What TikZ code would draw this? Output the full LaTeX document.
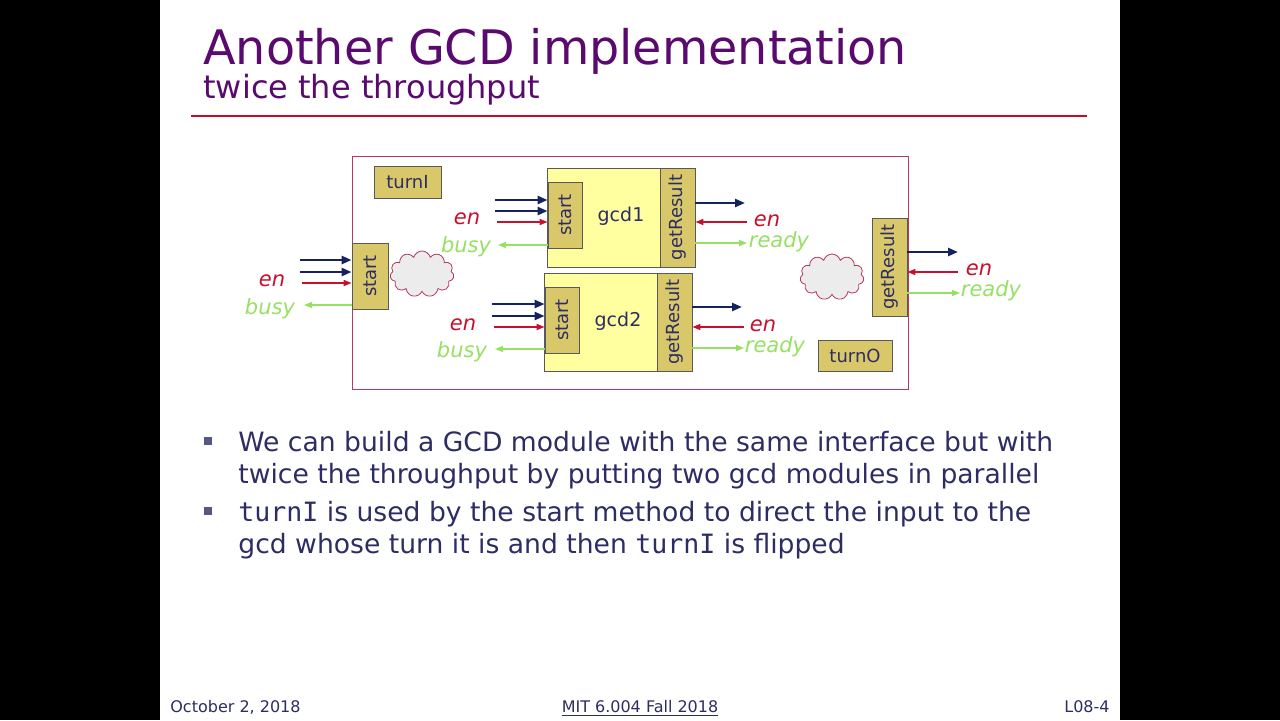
\documentclass[tikz,border=0pt]{standalone}
\usepackage{fontspec}
\setmainfont{DejaVu Sans}
\setmonofont{DejaVu Sans Mono}
\usetikzlibrary{positioning,arrows.meta,shapes.symbols,calc}
\definecolor{titlepurple}{RGB}{90,10,110}
\definecolor{rulered}{RGB}{200,10,40}
\definecolor{bodynavy}{RGB}{45,45,100}
\definecolor{busnavy}{RGB}{20,35,95}
\definecolor{enred}{RGB}{200,16,46}
\definecolor{okgreen}{RGB}{150,225,100}
\definecolor{khaki}{RGB}{217,200,106}
\definecolor{paleyellow}{RGB}{255,255,160}
\definecolor{framered}{RGB}{180,60,90}

\tikzset{
    method/.style={draw=gray!70!black, fill=khaki, inner sep=0pt, font=\fontsize{9}{10}\selectfont, text=bodynavy},
    module/.style={draw=gray!70!black, fill=paleyellow, inner sep=0pt},
    bus/.style={-{Triangle[length=5pt,width=4pt]}, very thick, busnavy},
    enw/.style={-{Triangle[length=4pt,width=3pt]}, thick, enred},
    rdy/.style={-{Triangle[length=4pt,width=3pt]}, semithick, okgreen},
    enlab/.style={enred, font=\fontsize{10.5}{11}\selectfont\itshape},
    rdylab/.style={okgreen, font=\fontsize{10.5}{11}\selectfont\itshape},
    fuzz/.style={cloud, cloud puffs=11, draw=framered, fill=gray!15, minimum width=32pt, minimum height=23pt, inner sep=0pt}
}

\begin{document}
\begin{tikzpicture}[x=0.5pt, y=-0.5pt]

    % slide frame
    \useasboundingbox (0,0) rectangle (1280,720);
    \fill[white] (0,0) rectangle (1280,720);
    \fill[black] (0,0) rectangle (160,720);
    \fill[black] (1120,0) rectangle (1280,720);

    % title
    \node[anchor=base west, inner sep=0pt, titlepurple, font=\fontsize{23.8}{26}\selectfont] (title) at (203,64) {Another GCD implementation};
    \node[anchor=base west, inner sep=0pt, titlepurple, font=\fontsize{16}{18}\selectfont] (subtitle) at (203,98) {twice the throughput};
    \draw[rulered, line width=1pt] (191,116) -- (1087,116);

    % outer module
    \draw[framered, fill=white] (352,156) rectangle (908,389);
    \node[method, minimum width=33.5pt, minimum height=16pt] (turnI) at (407.5,182) {turnI};
    \node[method, minimum width=37pt, minimum height=15.5pt] (turnO) at (855,355.5) {turnO};

    % gcd1
    \node[module, minimum width=74pt, minimum height=49.5pt] (gcdA) at (621,217.5) {};
    \node[font=\fontsize{9.5}{10}\selectfont, text=bodynavy] (gcdAlab) at (621,216) {gcd1};
    \node[method, minimum width=17pt, minimum height=33pt] (startA) at (565,215) {\rotatebox{90}{start}};
    \node[method, minimum width=17.5pt, minimum height=49.5pt] (getA) at (677.5,217.5) {\rotatebox{90}{getResult}};

    % gcd2
    \node[module, minimum width=74pt, minimum height=49pt] (gcdB) at (618,322) {};
    \node[font=\fontsize{9.5}{10}\selectfont, text=bodynavy] (gcdBlab) at (618,321) {gcd2};
    \node[method, minimum width=17pt, minimum height=33pt] (startB) at (562,320) {\rotatebox{90}{start}};
    \node[method, minimum width=17.5pt, minimum height=49pt] (getB) at (674.5,322) {\rotatebox{90}{getResult}};

    % outer methods
    \node[method, minimum width=18pt, minimum height=33pt] (startO) at (370,276) {\rotatebox{90}{start}};
    \node[method, minimum width=17.5pt, minimum height=49pt] (getO) at (889.5,267) {\rotatebox{90}{getResult}};

    % clouds
    \node[fuzz] (cloudI) at (422,274) {};
    \node[fuzz] (cloudO) at (832,277) {};

    % outer start ports
    \draw[bus] (300,260) -- (startO.west |- 0,260);
    \draw[bus] (300,272) -- (startO.west |- 0,272);
    \draw[enw] (302,283) -- (startO.west |- 0,283);
    \draw[rdy] (startO.west |- 0,305) -- (304,305);
    \node[enlab] (enI) at (272,281) {en};
    \node[rdylab] (busyI) at (270,309) {busy};

    % gcd1 ports
    \draw[bus] (495,200) -- (startA.west |- 0,200);
    \draw[bus] (495,211) -- (startA.west |- 0,211);
    \draw[enw] (497,222) -- (startA.west |- 0,222);
    \draw[rdy] (startA.west |- 0,245) -- (498,245);
    \node[enlab] (enA) at (467,219) {en};
    \node[rdylab] (busyA) at (466,247) {busy};
    \draw[bus] (getA.east |- 0,203) -- (745,203);
    \draw[enw] (747,222) -- (getA.east |- 0,222);
    \draw[rdy] (getA.east |- 0,243) -- (747,243);
    \node[enlab] (enA2) at (767,221) {en};
    \node[rdylab] (readyA) at (779,242) {ready};

    % gcd2 ports
    \draw[bus] (492,304) -- (startB.west |- 0,304);
    \draw[bus] (492,316) -- (startB.west |- 0,316);
    \draw[enw] (494,327) -- (startB.west |- 0,327);
    \draw[rdy] (startB.west |- 0,349) -- (495,349);
    \node[enlab] (enB) at (463,325) {en};
    \node[rdylab] (busyB) at (462,352) {busy};
    \draw[bus] (getB.east |- 0,307) -- (742,307);
    \draw[enw] (744,327) -- (getB.east |- 0,327);
    \draw[rdy] (getB.east |- 0,348) -- (744,348);
    \node[enlab] (enB2) at (763,326) {en};
    \node[rdylab] (readyB) at (775,347) {ready};

    % outer getResult ports
    \draw[bus] (getO.east |- 0,252) -- (958,252);
    \draw[enw] (958,272) -- (getO.east |- 0,272);
    \draw[rdy] (getO.east |- 0,293) -- (960,293);
    \node[enlab] (enO) at (979,270) {en};
    \node[rdylab] (readyO) at (991,291) {ready};

    % bullets
    \fill[bodynavy!80] (204,437) rectangle (212,445);
    \fill[bodynavy!80] (204,507) rectangle (212,515);
    \begin{scope}[every node/.style={anchor=base west, inner sep=0pt, text=bodynavy, font=\fontsize{13.3}{15}\selectfont}]
        \node (lineA) at (238,451) {We can build a GCD module with the same interface but with};
        \node (lineB) at (238,483) {twice the throughput by putting two gcd modules in parallel};
        \node (lineC) at (238,521) {\texttt{turnI} is used by the start method to direct the input to the};
        \node (lineD) at (238,553) {gcd whose turn it is and then \texttt{turnI} is flipped};
    \end{scope}

    % footer
    \node[anchor=base west, inner sep=0pt, text=bodynavy, font=\fontsize{8}{9}\selectfont] (date) at (170,712) {October 2, 2018};
    \node[anchor=base, inner sep=0pt, text=bodynavy, font=\fontsize{8}{9}\selectfont] (course) at (640,712) {\underline{MIT 6.004 Fall 2018}};
    \node[anchor=base east, inner sep=0pt, text=bodynavy, font=\fontsize{8}{9}\selectfont] (page) at (1110,712) {L08-4};

\end{tikzpicture}
\end{document}
